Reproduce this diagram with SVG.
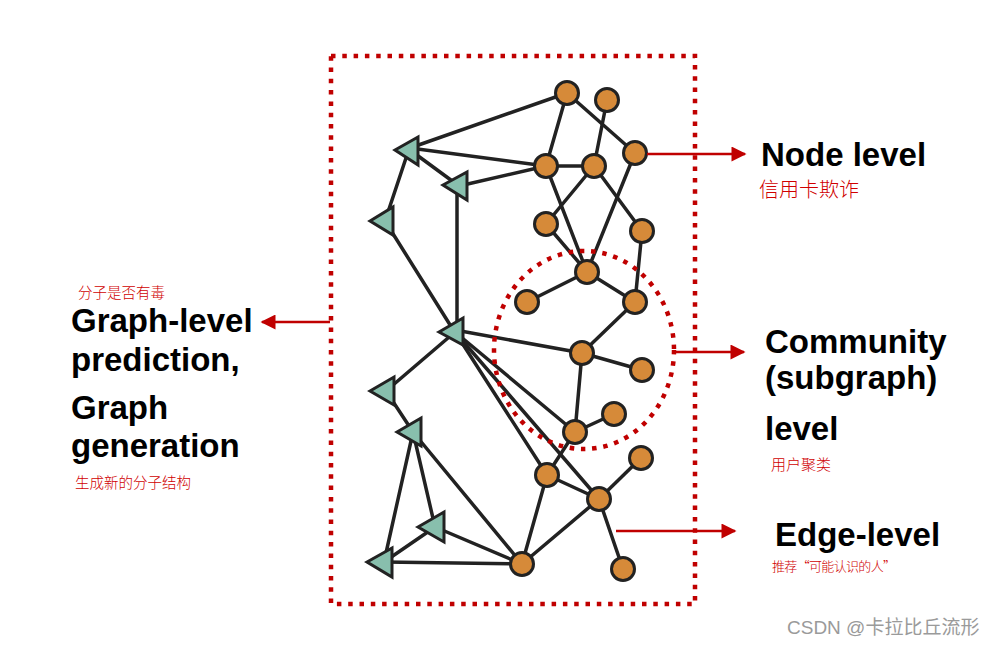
<svg xmlns="http://www.w3.org/2000/svg" width="993" height="647" viewBox="0 0 993 647">
<style>
.e{stroke:#222;stroke-width:3.5;fill:none;stroke-linecap:round}
.n{fill:#d68a39;stroke:#222;stroke-width:3}
.t{fill:#88bfad;stroke:#222;stroke-width:3;stroke-linejoin:miter}
.dot{fill:none;stroke:#c00000;stroke-width:4.5;stroke-dasharray:4.5 6.8}
.arr{stroke:#c00000;stroke-width:2.5;fill:none}
.big{font-family:"Liberation Sans",Arial,sans-serif;font-weight:bold;font-size:33px;fill:#000}
.cn{font-family:"Noto Sans CJK SC",sans-serif;fill:#d00000;font-weight:300}
.wm{font-family:"Liberation Sans","Noto Sans CJK SC",sans-serif;font-size:19px;fill:#9a9a9a}
</style>
<defs>
<marker id="ah" viewBox="0 0 10 10" refX="9" refY="5" markerWidth="6.5" markerHeight="6" orient="auto" markerUnits="strokeWidth">
<path d="M0,0 L10,5 L0,10 z" fill="#c00000"/>
</marker>
</defs>
<rect width="993" height="647" fill="#fff"/>
<rect id="frame" x="331" y="56" width="364" height="548" class="dot"/>
<g id="connectors">
<line class="e" x1="567" y1="93" x2="410" y2="148"/>
<line class="e" x1="567" y1="93" x2="546" y2="166"/>
<line class="e" x1="567" y1="93" x2="635" y2="153"/>
<line class="e" x1="607" y1="100" x2="594" y2="166"/>
<line class="e" x1="546" y1="166" x2="594" y2="166"/>
<line class="e" x1="546" y1="166" x2="410" y2="148"/>
<line class="e" x1="546" y1="166" x2="459" y2="186"/>
<line class="e" x1="410" y1="150" x2="459" y2="186"/>
<line class="e" x1="408" y1="152" x2="385" y2="221"/>
<line class="e" x1="457" y1="186" x2="457" y2="332"/>
<line class="e" x1="385" y1="221" x2="452" y2="328"/>
<line class="e" x1="546" y1="166" x2="587" y2="272"/>
<line class="e" x1="594" y1="166" x2="546" y2="224"/>
<line class="e" x1="594" y1="166" x2="642" y2="231"/>
<line class="e" x1="635" y1="153" x2="587" y2="272"/>
<line class="e" x1="546" y1="224" x2="587" y2="272"/>
<line class="e" x1="642" y1="231" x2="635" y2="302"/>
<line class="e" x1="587" y1="272" x2="527" y2="302"/>
<line class="e" x1="587" y1="272" x2="635" y2="302"/>
<line class="e" x1="635" y1="302" x2="582" y2="353"/>
<line class="e" x1="582" y1="353" x2="642" y2="370"/>
<line class="e" x1="582" y1="353" x2="575" y2="432"/>
<line class="e" x1="455" y1="330" x2="582" y2="353"/>
<line class="e" x1="575" y1="432" x2="614" y2="414"/>
<line class="e" x1="455" y1="332" x2="575" y2="432"/>
<line class="e" x1="455" y1="332" x2="599" y2="499"/>
<line class="e" x1="455" y1="332" x2="547" y2="475"/>
<line class="e" x1="455" y1="332" x2="386" y2="391"/>
<line class="e" x1="386" y1="391" x2="413" y2="432"/>
<line class="e" x1="413" y1="432" x2="384" y2="562"/>
<line class="e" x1="413" y1="432" x2="435" y2="527"/>
<line class="e" x1="413" y1="432" x2="522" y2="564"/>
<line class="e" x1="435" y1="527" x2="522" y2="564"/>
<line class="e" x1="435" y1="527" x2="384" y2="562"/>
<line class="e" x1="384" y1="562" x2="522" y2="564"/>
<line class="e" x1="547" y1="475" x2="522" y2="564"/>
<line class="e" x1="547" y1="475" x2="599" y2="499"/>
<line class="e" x1="599" y1="499" x2="522" y2="564"/>
<line class="e" x1="547" y1="475" x2="575" y2="432"/>
<line class="e" x1="599" y1="499" x2="641" y2="458"/>
<line class="e" x1="599" y1="499" x2="623" y2="569"/>
</g>
<ellipse id="community" cx="584" cy="350" rx="90" ry="99" class="dot"/>
<g id="triangles">
<polygon id="T1" class="t" points="395,150 418,137 418,165"/>
<polygon id="T2" class="t" points="443,185 467,172 467,200"/>
<polygon id="T3" class="t" points="370,221 393,207 393,235"/>
<polygon id="T4" class="t" points="439,332 463,318 463,345"/>
<polygon id="T5" class="t" points="370,391 394,377 394,405"/>
<polygon id="T6" class="t" points="397,432 421,418 421,446"/>
<polygon id="T7" class="t" points="418,527 444,512 444,542"/>
<polygon id="T8" class="t" points="367,562 392,548 392,577"/>
</g>
<g id="nodes">
<circle id="A" class="n" cx="567" cy="93" r="11.5"/>
<circle id="B" class="n" cx="607" cy="100" r="11.5"/>
<circle id="C" class="n" cx="635" cy="153" r="11.5"/>
<circle id="D" class="n" cx="546" cy="166" r="11.5"/>
<circle id="E" class="n" cx="594" cy="166" r="11.5"/>
<circle id="F" class="n" cx="546" cy="224" r="11.5"/>
<circle id="G" class="n" cx="642" cy="231" r="11.5"/>
<circle id="H" class="n" cx="587" cy="272" r="11.5"/>
<circle id="I" class="n" cx="527" cy="302" r="11.5"/>
<circle id="J" class="n" cx="635" cy="302" r="11.5"/>
<circle id="K" class="n" cx="582" cy="353" r="11.5"/>
<circle id="L" class="n" cx="642" cy="370" r="11.5"/>
<circle id="M" class="n" cx="614" cy="414" r="11.5"/>
<circle id="N" class="n" cx="575" cy="432" r="11.5"/>
<circle id="O" class="n" cx="641" cy="458" r="11.5"/>
<circle id="P" class="n" cx="547" cy="475" r="11.5"/>
<circle id="Q" class="n" cx="599" cy="499" r="11.5"/>
<circle id="R" class="n" cx="522" cy="564" r="11.5"/>
<circle id="S" class="n" cx="623" cy="569" r="11.5"/>
</g>
<g id="arrows">
<line class="arr" x1="647" y1="154" x2="745" y2="154" marker-end="url(#ah)"/>
<line class="arr" x1="675" y1="352" x2="744" y2="352" marker-end="url(#ah)"/>
<line class="arr" x1="616" y1="531" x2="735" y2="531" marker-end="url(#ah)"/>
<line class="arr" x1="330" y1="322" x2="262" y2="322" marker-end="url(#ah)"/>
</g>
<g id="label-node">
<text class="big" x="761" y="166">Node level</text>
<text class="cn" x="759" y="197" font-size="20">信用卡欺诈</text>
</g>
<g id="label-community">
<text class="big" x="765" y="353">Community</text>
<text class="big" x="765" y="389">(subgraph)</text>
<text class="big" x="765" y="440">level</text>
<text class="cn" x="771" y="470" font-size="15">用户聚类</text>
</g>
<g id="label-edge">
<text class="big" x="775" y="546">Edge-level</text>
<text class="cn" x="772" y="571" font-size="13" textLength="124" lengthAdjust="spacing">推荐“可能认识的人”</text>
</g>
<g id="label-graph">
<text class="cn" x="78" y="298" font-size="14.5">分子是否有毒</text>
<text class="big" x="71" y="332">Graph-level</text>
<text class="big" x="71" y="371">prediction,</text>
<text class="big" x="71" y="419">Graph</text>
<text class="big" x="71" y="457">generation</text>
<text class="cn" x="75" y="488" font-size="14.5">生成新的分子结构</text>
</g>
<text class="wm" x="787" y="634">CSDN @卡拉比丘流形</text>
</svg>
